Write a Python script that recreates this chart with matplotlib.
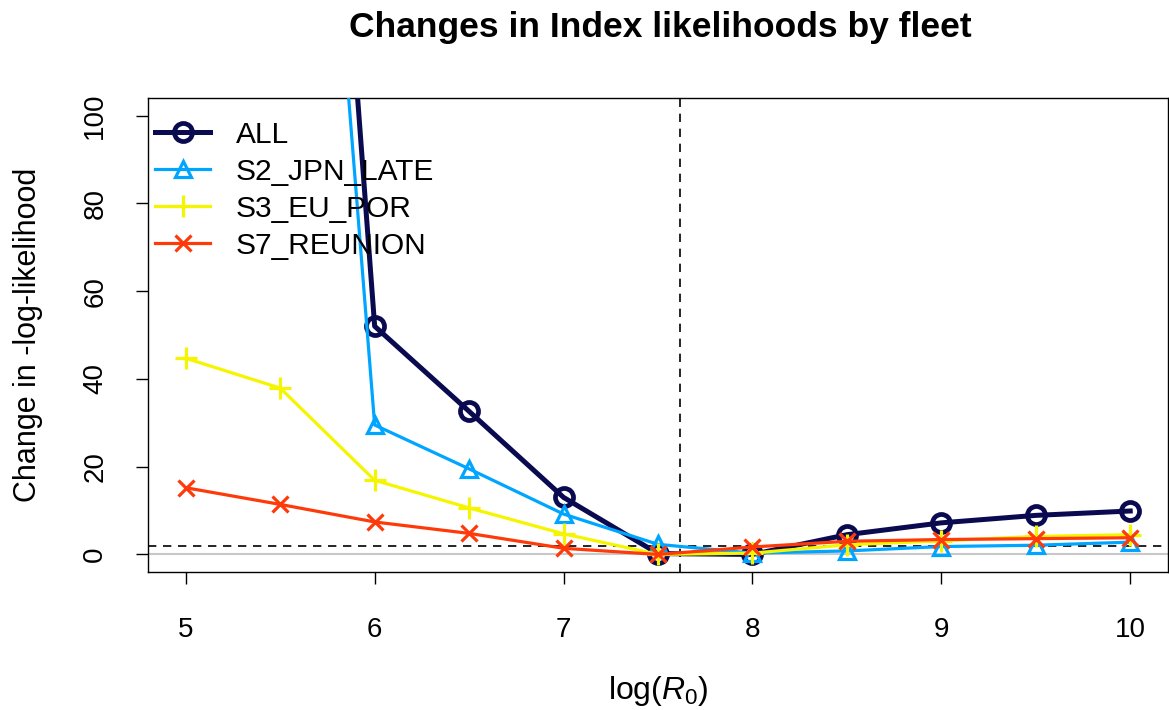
import numpy as np
import matplotlib
matplotlib.use("Agg")
import matplotlib.pyplot as plt

plt.rcParams['font.family'] = ['Liberation Sans', 'DejaVu Sans']
plt.rcParams['mathtext.fontset'] = 'custom'
plt.rcParams['mathtext.rm'] = 'Liberation Sans'
plt.rcParams['mathtext.it'] = 'Liberation Sans:italic'

# profile over log(R0)
log_r0 = [5.0, 5.5, 6.0, 6.5, 7.0, 7.5, 8.0, 8.5, 9.0, 9.5, 10.0]

fleet_names = ['ALL', 'S2_JPN_LATE', 'S3_EU_POR', 'S7_REUNION']
like_all = [600.0, 340.0, 52.0, 32.6, 13.0, 0.2, 0.0, 4.5, 7.2, 8.9, 9.9]
like_s2 = [520.0, 300.0, 29.5, 19.5, 9.2, 2.3, 0.3, 0.8, 1.8, 2.1, 2.8]
like_s3 = [44.7, 37.9, 16.9, 10.6, 4.7, 0.0, 0.3, 2.2, 3.1, 4.1, 4.5]
like_s7 = [15.2, 11.4, 7.4, 4.8, 1.4, 0.0, 1.7, 3.0, 3.4, 3.6, 3.8]

mle_r0 = 7.614
chi_cut = 1.92

colors = ['#0A0A50', '#00A5FF', '#F5F500', '#FF3A0A']

fig = plt.figure(figsize=(11.69, 7.10), dpi=100)
ax = fig.add_axes([148 / 1169, 1 - 572 / 710, 1020 / 1169, 474 / 710])

ax.axhline(0, color='#C8C8C8', lw=1.5, zorder=1)
ax.axhline(chi_cut, color='black', lw=1.2, ls=(0, (5, 4)), zorder=1)
ax.axvline(mle_r0, color='black', lw=1.2, ls=(0, (5, 4)), zorder=1)

ax.plot(log_r0, like_all, color=colors[0], lw=3.6, marker='o', ms=13,
        mfc='none', mew=3.4, label=fleet_names[0], zorder=3)
ax.plot(log_r0, like_s2, color=colors[1], lw=2.3, marker='^', ms=11,
        mfc='none', mew=2.3, label=fleet_names[1], zorder=4)
ax.plot(log_r0, like_s3, color=colors[2], lw=2.3, marker='+', ms=16,
        mew=2.3, label=fleet_names[2], zorder=5)
ax.plot(log_r0, like_s7, color=colors[3], lw=2.3, marker='x', ms=11,
        mew=2.3, label=fleet_names[3], zorder=6)

ax.set_xlim(4.8, 10.2)
ax.set_ylim(-4, 104)
ax.set_xticks([5, 6, 7, 8, 9, 10])
ax.set_yticks([0, 20, 40, 60, 80, 100])
ax.tick_params(axis='both', direction='out', length=8.6, width=1.0,
               labelsize=20, color='black')
ax.tick_params(axis='x', pad=24)
ax.tick_params(axis='y', pad=20)
for lab in ax.get_yticklabels():
    lab.set_rotation(90)
    lab.set_va('center')
for s in ax.spines.values():
    s.set_linewidth(1.0)

ax.set_xlabel(r'log($R_0$)', fontsize=23, labelpad=22)
ax.set_ylabel('Change in -log-likelihood', fontsize=22, labelpad=28)
fig.text(660 / 1169, 1 - 27 / 710, 'Changes in Index likelihoods by fleet',
         ha='center', va='center', fontsize=25.5, fontweight='bold')

ax.legend(loc='upper left', bbox_to_anchor=(0.007, 0.952), frameon=False,
          fontsize=21.5, handlelength=1.85, handletextpad=0.85,
          labelspacing=0.3, borderpad=0, borderaxespad=0)

fig.savefig('out.png', dpi=100)
